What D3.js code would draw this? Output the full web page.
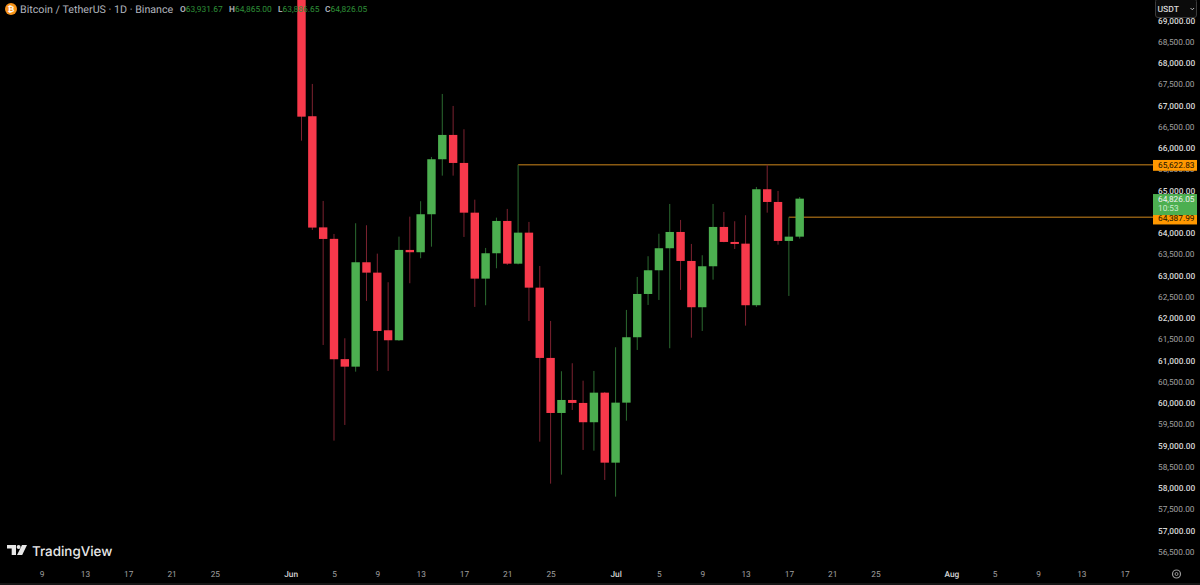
<!DOCTYPE html>
<html lang="en">
<head>
    <meta charset="UTF-8">
    <title>Bitcoin / TetherUS 1D</title>
    <script src="https://d3js.org/d3.v7.min.js"></script>
    <style>
        html, body { margin: 0; background: #000; overflow: hidden; }
        svg { display: block; font-family: Roboto, sans-serif; text-rendering: geometricPrecision; }
        .axis path, .axis line { display: none; }
        .axis text { font-family: Roboto, sans-serif; font-size: 8.3px; fill: #a0a0a0; }
        .axis text.major { fill: #d6d6d6; font-weight: 500; }
    </style>
</head>
<body>
    <div id="chart"></div>

    <script>
        // Daily candles, first one is Jun 2
        const firstDay = "2024-06-02";
        const opens = [69800, 66765, 64150, 63880, 61050, 60873, 63329, 63085, 61729, 61494, 63619, 63565, 64459, 65753, 66325, 65666,
            64496, 62944, 63541, 64301, 63296, 64026, 62732, 61078, 59783, 60089, 60019, 59565, 60261, 58614, 60026, 61565,
            62583, 63141, 63659, 64042, 63360, 62271, 63235, 64160, 63807, 63767, 62318, 65047, 64748, 63831, 63931.67];
        const highs = [69900, 67525, 64772, 63995, 61541, 64247, 64200, 63532, 62859, 63932, 64402, 64765, 65807, 67289, 67007, 66459,
            64802, 63666, 64379, 64584, 65622.83, 64278, 63242, 61948, 60765, 60953, 60543, 60772, 60277, 61329, 62207, 62984,
            63471, 64000, 64701, 64325, 63760, 63494, 64701, 64513, 64294, 64435, 65101, 65622.83, 65007, 64387.99, 64865];
        const lows = [66190, 64090, 61383, 59132, 59501, 60755, 62419, 60772, 60772, 61480, 62835, 63424, 63696, 65367, 65367, 63925,
            62278, 62318, 63188, 63266, 63280, 61948, 59108, 58120, 58332, 59854, 58913, 58896, 58207, 57814, 59602, 61266,
            62325, 62442, 61306, 62678, 61555, 61713, 62920, 63800, 63642, 61838, 62278, 64496, 63744, 62537, 63886.65];
        const closes = [66755, 64145, 63878, 61047, 60873, 63329, 63085, 61713, 61494, 63619, 63565, 64459, 65753, 66325, 65666, 64496,
            62944, 63541, 64301, 63296, 64026, 62732, 61078, 59783, 60089, 60019, 59565, 60261, 58614, 60026, 61565, 62583,
            63141, 63659, 64042, 63360, 62271, 63235, 64160, 63807, 63767, 62318, 65047, 64748, 63831, 63931.67, 64826.05];

        const priceTicks = d3.range(56500, 69001, 500);
        const timeTicks = ["2024-05-09", "2024-05-13", "2024-05-17", "2024-05-21", "2024-05-25", "2024-06-01", "2024-06-05", "2024-06-09",
            "2024-06-13", "2024-06-17", "2024-06-21", "2024-06-25", "2024-07-01", "2024-07-05", "2024-07-09", "2024-07-13",
            "2024-07-17", "2024-07-21", "2024-07-25", "2024-08-01", "2024-08-05", "2024-08-09", "2024-08-13", "2024-08-17"];

        // horizontal rays: price and the day they start on
        const rayPrices = [65622.83, 64387.99];
        const rayStarts = ["2024-06-22", "2024-07-17"];
        const lastPrice = 64826.05;
        const countdown = "10:53";
        const ohlcLabels = ["O", "H", "L", "C"];
        const ohlcValues = [63931.67, 64865.00, 63886.65, 64826.05];

        const width = 1200, height = 585;
        const red = "#f7394b", redWick = "#7c2230", green = "#4caf50", greenWick = "#2b6a30", orange = "#ff9800", rayColor = "#8a5a12";
        const fmt = d3.format(",.2f");

        const parse = d3.utcParse("%Y-%m-%d");
        const x = d3.scaleUtc().domain([parse("2024-06-02"), parse("2024-07-18")]).range([301.5, 799.7]);
        const y = d3.scaleLinear().domain([56500, 69000]).range([552.5, 21.25]);

        const candles = opens.map((o, i) => ({
            date: d3.utcDay.offset(parse(firstDay), i),
            o: o, h: highs[i], l: lows[i], c: closes[i]
        }));

        const svg = d3.select("#chart").append("svg").attr("width", width).attr("height", height);

        // rays go under the candles
        svg.selectAll(".ray").data(rayPrices).join("line")
            .attr("x1", (d, i) => x(parse(rayStarts[i])))
            .attr("x2", 1153)
            .attr("y1", d => y(d))
            .attr("y2", d => y(d))
            .attr("stroke", rayColor)
            .attr("stroke-width", 1.4);

        const g = svg.selectAll(".candle").data(candles).join("g");
        g.append("line")
            .attr("x1", d => x(d.date)).attr("x2", d => x(d.date))
            .attr("y1", d => y(d.h)).attr("y2", d => y(d.l))
            .attr("stroke", d => d.c >= d.o ? greenWick : redWick)
            .attr("stroke-width", 1);
        g.append("rect")
            .attr("x", d => x(d.date) - 4.2)
            .attr("width", 8.4)
            .attr("y", d => y(Math.max(d.o, d.c)))
            .attr("height", d => Math.max(2, Math.abs(y(d.o) - y(d.c))))
            .attr("fill", d => d.c >= d.o ? green : red);

        // price axis
        const yAxis = svg.append("g").attr("class", "axis")
            .attr("transform", "translate(1155,-0.8)")
            .call(d3.axisRight(y).tickValues(priceTicks).tickFormat(fmt).tickSize(0).tickPadding(3));
        yAxis.selectAll("text").classed("major", d => d % 1000 === 0);

        // time axis
        const xAxis = svg.append("g").attr("class", "axis")
            .attr("transform", "translate(0,571)")
            .call(d3.axisBottom(x).tickValues(timeTicks.map(parse)).tickSize(0).tickPadding(0)
                .tickFormat(d => d.getUTCDate() === 1 ? d3.utcFormat("%b")(d) : d.getUTCDate()));
        xAxis.selectAll("text").classed("major", d => d.getUTCDate() === 1);

        svg.append("line").attr("x1", 0).attr("x2", width).attr("y1", 584).attr("y2", 584).attr("stroke", "#2a2a2a");

        // last price and ray labels over the axis
        function priceTag(top, h, fill) {
            svg.append("rect").attr("x", 1153).attr("y", top).attr("width", 44).attr("height", h).attr("fill", fill);
        }
        function tagText(text, cy, color) {
            svg.append("text").attr("x", 1158).attr("y", cy).attr("dy", "0.35em")
                .attr("font-size", 8.3).attr("fill", color).text(text);
        }
        rayPrices.forEach(p => priceTag(y(p) - 4.8, 10.8 + (p < lastPrice ? 1.2 : 0), orange));
        priceTag(y(lastPrice) - 4.6, 21, green);
        tagText(fmt(lastPrice), y(lastPrice) + 0.5, "#f0f0f0");
        tagText(countdown, y(lastPrice) + 9.5, "#cdeccf");
        rayPrices.forEach(p => tagText(fmt(p), y(p) + 0.4, "#1a1000"));

        // currency button
        svg.append("rect").attr("x", 1155.5).attr("y", -1).attr("width", 41).attr("height", 18.5).attr("rx", 2.5)
            .attr("fill", "#0b0b0b").attr("stroke", "#3a3a3a");
        svg.append("text").attr("x", 1157.5).attr("y", 12).attr("font-size", 8.6).attr("font-weight", 500).attr("fill", "#d6d6d6").text("USDT");
        svg.append("path").attr("d", "M1190.5 8l1.8 1.8 1.8-1.8").attr("fill", "none").attr("stroke", "#bbb");

        // settings gear
        svg.append("circle").attr("cx", 1176.5).attr("cy", 574).attr("r", 4).attr("fill", "none").attr("stroke", "#999").attr("stroke-width", 1.2);
        svg.append("circle").attr("cx", 1176.5).attr("cy", 574).attr("r", 1.5).attr("fill", "none").attr("stroke", "#999");

        // legend
        svg.append("circle").attr("cx", 11).attr("cy", 9).attr("r", 6).attr("fill", "#f7931a");
        svg.append("text").attr("x", 11).attr("y", 12).attr("text-anchor", "middle").attr("font-size", 8.5).attr("font-weight", 700).attr("fill", "#fff").text("₿");
        svg.append("text").attr("x", 20).attr("y", 13).attr("font-size", 10.7).attr("fill", "#b2b5be").text("Bitcoin / TetherUS · 1D · Binance");

        const ohlcX = [180, 229, 278, 325];
        ohlcLabels.forEach((label, i) => {
            const t = svg.append("text").attr("x", ohlcX[i]).attr("y", 12).attr("font-size", 8.4);
            t.append("tspan").attr("fill", "#a5a8b0").attr("font-weight", 700).text(label);
            t.append("tspan").attr("fill", "#2e8f38").text(fmt(ohlcValues[i]));
        });

        // logo
        svg.append("path").attr("fill", "#e8e8e8")
            .attr("d", "M7 545h9v10h-4.3v-6.4H7z M22 545h5l-4.8 10h-5.2z");
        svg.append("circle").attr("cx", 18.6).attr("cy", 547).attr("r", 2).attr("fill", "#e8e8e8");
        svg.append("text").attr("x", 32).attr("y", 555.5).attr("font-family", "Inter, sans-serif").attr("font-size", 13.4)
            .attr("font-weight", 500).attr("fill", "#e8e8e8").text("TradingView");
    </script>
</body>
</html>
